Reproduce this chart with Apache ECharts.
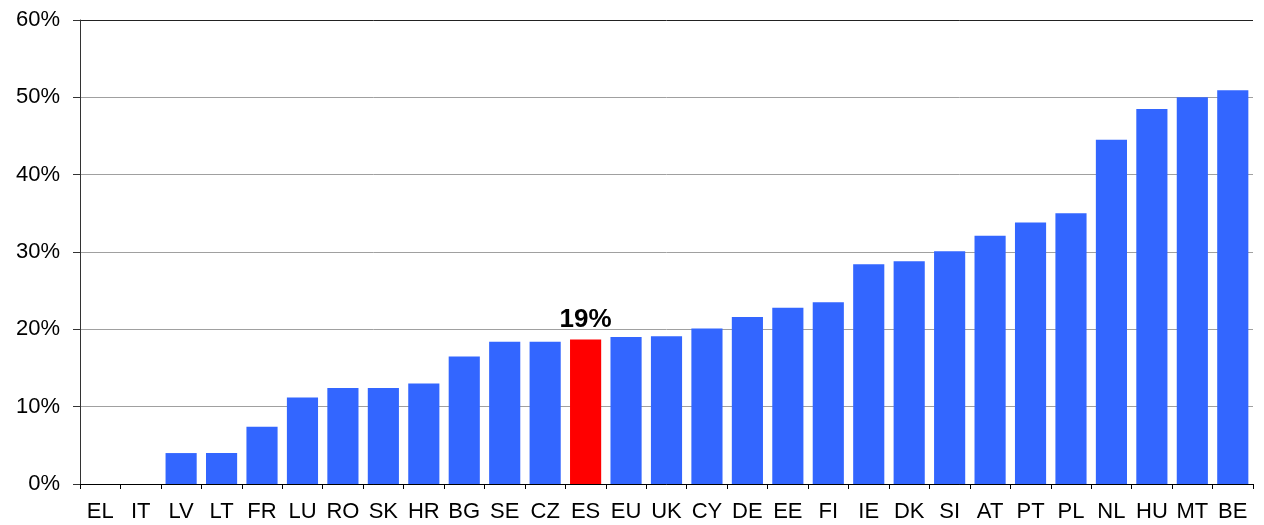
<!DOCTYPE html>
<html>
<head>
<meta charset="utf-8">
<script src="https://cdn.jsdelivr.net/npm/echarts@6/dist/echarts.min.js"></script>
<style>
  html, body { margin: 0; padding: 0; background: #fff; }
  #chart { width: 1264px; height: 525px; }
</style>
</head>
<body>
<div id="chart"></div>
<script>
// 国家代码
const categories = ['EL', 'IT', 'LV', 'LT', 'FR', 'LU', 'RO', 'SK', 'HR', 'BG', 'SE', 'CZ', 'ES', 'EU', 'UK',
  'CY', 'DE', 'EE', 'FI', 'IE', 'DK', 'SI', 'AT', 'PT', 'PL', 'NL', 'HU', 'MT', 'BE']
// 数值 (%)
const values = [0, 0, 4.0, 4.0, 7.4, 11.2, 12.4, 12.4, 13.0, 16.5, 18.4, 18.4, 18.7, 19.0, 19.1,
  20.1, 21.6, 22.8, 23.5, 28.4, 28.8, 30.1, 32.1, 33.8, 35.0, 44.5, 48.5, 50.0, 50.9]
const highlight = 'ES'
const highlightLabel = '19%'

const blue = '#3366FF'
const red = '#FF0000'
const font = 'Liberation Sans, Arial, sans-serif'

const chart = echarts.init(document.getElementById('chart'))

const option = {
  animation: false,
  grid: { left: 80, right: 11, top: 20, bottom: 41 },
  xAxis: {
    type: 'category',
    data: categories,
    axisLine: { lineStyle: { color: '#000', width: 1 } },
    axisTick: { show: true, length: 5, lineStyle: { color: '#000' } },
    axisLabel: {
      color: '#000',
      fontFamily: font,
      fontSize: 22,
      margin: 17,
      interval: 0
    }
  },
  yAxis: {
    type: 'value',
    min: 0,
    max: 60,
    interval: 10,
    axisLine: { show: true, lineStyle: { color: '#333' } },
    axisTick: { show: true, length: 7, lineStyle: { color: '#333' } },
    axisLabel: {
      formatter: '{value}%',
      color: '#000',
      fontFamily: font,
      fontSize: 22,
      margin: 20
    },
    splitLine: {
      show: true,
      lineStyle: { color: ['#a0a0a0', '#a0a0a0', '#a0a0a0', '#a0a0a0', '#a0a0a0', '#a0a0a0', '#222'], width: 1 }
    }
  },
  series: [{
    type: 'bar',
    barCategoryGap: '23%',
    data: categories.map((c, i) => ({
      value: values[i],
      itemStyle: { color: c === highlight ? red : blue },
      label: c === highlight ? {
        show: true,
        position: 'top',
        distance: 7,
        formatter: highlightLabel,
        color: '#000',
        fontWeight: 'bold',
        fontSize: 26,
        fontFamily: font
      } : { show: false }
    }))
  }]
}

chart.setOption(option)
</script>
</body>
</html>
